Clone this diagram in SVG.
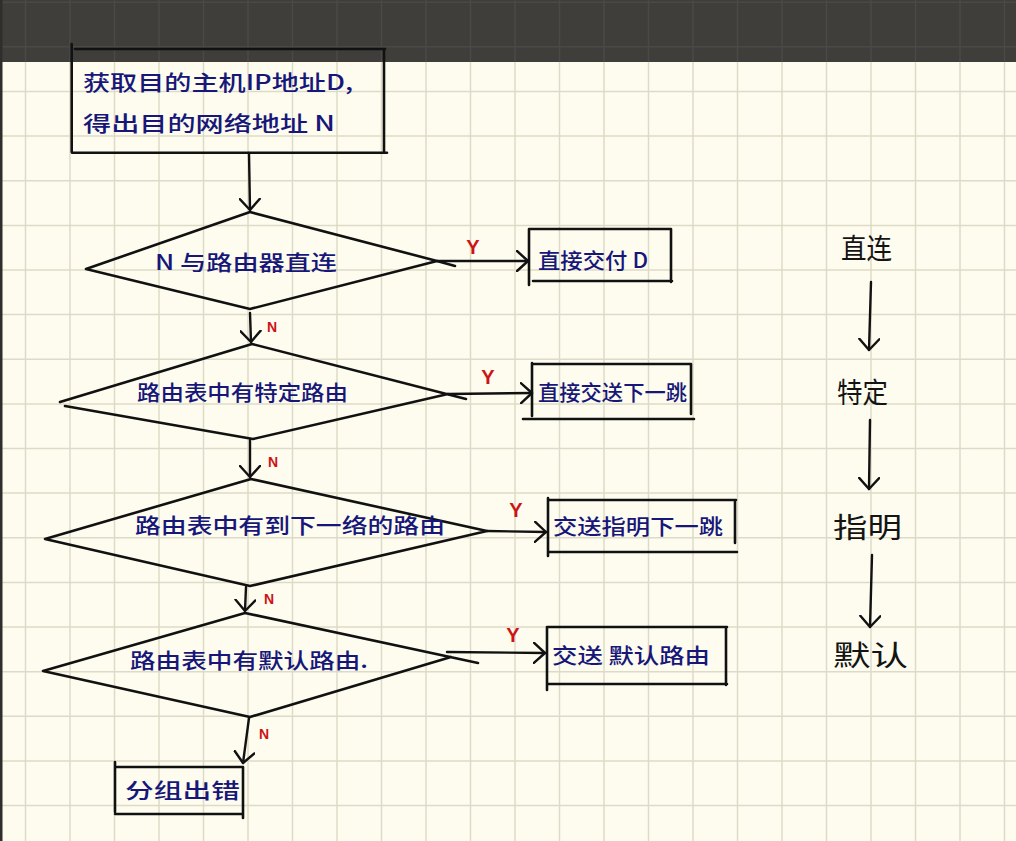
<svg xmlns="http://www.w3.org/2000/svg" width="1016" height="841" viewBox="0 0 1016 841">
<style>
.ln{fill:none;stroke:#111;stroke-width:2.6;stroke-linecap:round;stroke-linejoin:round}
.arr{fill:none;stroke:#111;stroke-width:2.4;stroke-linecap:round;marker-end:url(#ah)}
.t{font-family:"Noto Sans CJK SC","Noto Sans",sans-serif;fill:#17177a;font-size:21px;font-weight:500}
.side{font-family:"Noto Sans CJK SC","Noto Sans",sans-serif;fill:#141414;font-size:28px}
.y{font-family:"Liberation Sans",Arial,sans-serif;fill:#cc1414;font-size:20px;font-weight:bold;text-anchor:middle}
.n{font-family:"Liberation Sans",Arial,sans-serif;fill:#cc1414;font-size:14px;font-weight:bold;text-anchor:middle}
</style>
<defs>
<marker id="ah" markerUnits="userSpaceOnUse" markerWidth="16" markerHeight="22" refX="12" refY="11" orient="auto">
<path d="M1,1 L12,11 L1,21" fill="none" stroke="#111" stroke-width="2.4" stroke-linecap="round" stroke-linejoin="round"/>
</marker>
</defs>
<rect x="0" y="0" width="1016" height="841" fill="#fdfcef"/>
<path fill="none" stroke="#dedac8" stroke-width="1.5" d="M25.5,62V841M70,62V841M114.5,62V841M159,62V841M203.5,62V841M248,62V841M292.5,62V841M337,62V841M381.5,62V841M426,62V841M470.5,62V841M515,62V841M559.5,62V841M604,62V841M648.5,62V841M693,62V841M737.5,62V841M782,62V841M826.5,62V841M871,62V841M915.5,62V841M960,62V841M1004.5,62V841M0,91.5H1016M0,136.1H1016M0,180.7H1016M0,225.4H1016M0,270H1016M0,314.6H1016M0,359.2H1016M0,403.9H1016M0,448.5H1016M0,493.1H1016M0,537.8H1016M0,582.4H1016M0,627H1016M0,671.7H1016M0,716.3H1016M0,760.9H1016M0,805.5H1016"/>
<rect x="0" y="0" width="1016" height="62" fill="#3f3e3a"/>
<path fill="none" stroke="#4a4945" stroke-width="1.5" d="M25.5,0V62M70,0V62M114.5,0V62M159,0V62M203.5,0V62M248,0V62M292.5,0V62M337,0V62M381.5,0V62M426,0V62M470.5,0V62M515,0V62M559.5,0V62M604,0V62M648.5,0V62M693,0V62M737.5,0V62M782,0V62M826.5,0V62M871,0V62M915.5,0V62M960,0V62M1004.5,0V62M0,2.2H1016M0,46.8H1016"/>
<rect x="0" y="0" width="2.5" height="841" fill="#2e2e2c"/>

<g id="start">
<path class="ln" d="M71.7,44V152M75,49H385M384,49V152M72,152.7H387"/>
<text class="t" x="83" y="90" textLength="270" lengthAdjust="spacingAndGlyphs">获取目的主机IP地址D,</text>
<text class="t" x="83" y="131" textLength="252" lengthAdjust="spacingAndGlyphs">得出目的网络地址 N</text>
</g>

<g id="decision1">
<path class="ln" d="M250,212L86,269L250,309L437,261L455,266M250,212L437,261"/>
<text class="t" x="155" y="270" textLength="182" lengthAdjust="spacingAndGlyphs">N 与路由器直连</text>
</g>

<g id="direct">
<path class="ln" d="M529,229V285M529,229H671M671,229V282M533,281H672"/>
<text class="t" x="538" y="268" textLength="110" lengthAdjust="spacingAndGlyphs">直接交付 D</text>
</g>

<g id="decision2">
<path class="ln" d="M60,402L252,344L466,399M65,406L253,439L448,394"/>
<text class="t" x="137" y="400" textLength="211" lengthAdjust="spacingAndGlyphs">路由表中有特定路由</text>
</g>

<g id="specific">
<path class="ln" d="M532,363V416M532,364H691M691,364V414M523,419H694"/>
<text class="t" x="538" y="400" textLength="149" lengthAdjust="spacingAndGlyphs">直接交送下一跳</text>
</g>

<g id="decision3">
<path class="ln" d="M251,479L45,539L250,586L487,531L251,479"/>
<text class="t" x="135" y="533" textLength="310" lengthAdjust="spacingAndGlyphs">路由表中有到下一络的路由</text>
</g>

<g id="nexthop">
<path class="ln" d="M548,498V556M548,500H736M735,500V543M548,552H737"/>
<text class="t" x="553" y="534" textLength="170" lengthAdjust="spacingAndGlyphs">交送指明下一跳</text>
</g>

<g id="decision4">
<path class="ln" d="M245,613L43,671L250,717L451,657M245,613L478,663"/>
<text class="t" x="130" y="668" textLength="238" lengthAdjust="spacingAndGlyphs">路由表中有默认路由.</text>
</g>

<g id="default">
<path class="ln" d="M547,627V690M547,627H727M726,627V685M547,684H727"/>
<text class="t" x="552" y="663" textLength="158" lengthAdjust="spacingAndGlyphs">交送 默认路由</text>
</g>

<g id="error">
<path class="ln" d="M115,762V812M115,767H243M243,767V818M115,814H242"/>
<text class="t" x="125" y="798" textLength="115" lengthAdjust="spacingAndGlyphs">分组出错</text>
</g>

<g id="connectors">
<path class="arr" d="M249,153L250,210"/>
<path class="arr" d="M437,261L528,261"/>
<path class="arr" d="M250,313L251,342"/>
<path class="arr" d="M448,394L532,393"/>
<path class="arr" d="M250,440L250,477"/>
<path class="arr" d="M487,531L546,532"/>
<path class="arr" d="M246,587L245,611"/>
<path class="arr" d="M447,652L545,653"/>
<path class="arr" d="M249,718L243,763"/>
<text class="y" x="473" y="254">Y</text>
<text class="y" x="488" y="384">Y</text>
<text class="y" x="516" y="517">Y</text>
<text class="y" x="513" y="642">Y</text>
<text class="n" x="272" y="332">N</text>
<text class="n" x="273" y="467">N</text>
<text class="n" x="269" y="604">N</text>
<text class="n" x="264" y="739">N</text>
</g>

<g id="legend">
<text class="side" x="841" y="259" textLength="51" lengthAdjust="spacingAndGlyphs">直连</text>
<text class="side" x="837" y="403" textLength="51" lengthAdjust="spacingAndGlyphs">特定</text>
<text class="side" x="833" y="538" textLength="69" lengthAdjust="spacingAndGlyphs">指明</text>
<text class="side" x="833" y="666" textLength="75" lengthAdjust="spacingAndGlyphs">默认</text>
<path class="arr" d="M871,282L869,350"/>
<path class="arr" d="M870,420L869,489"/>
<path class="arr" d="M872,555L870,627"/>
</g>
</svg>
